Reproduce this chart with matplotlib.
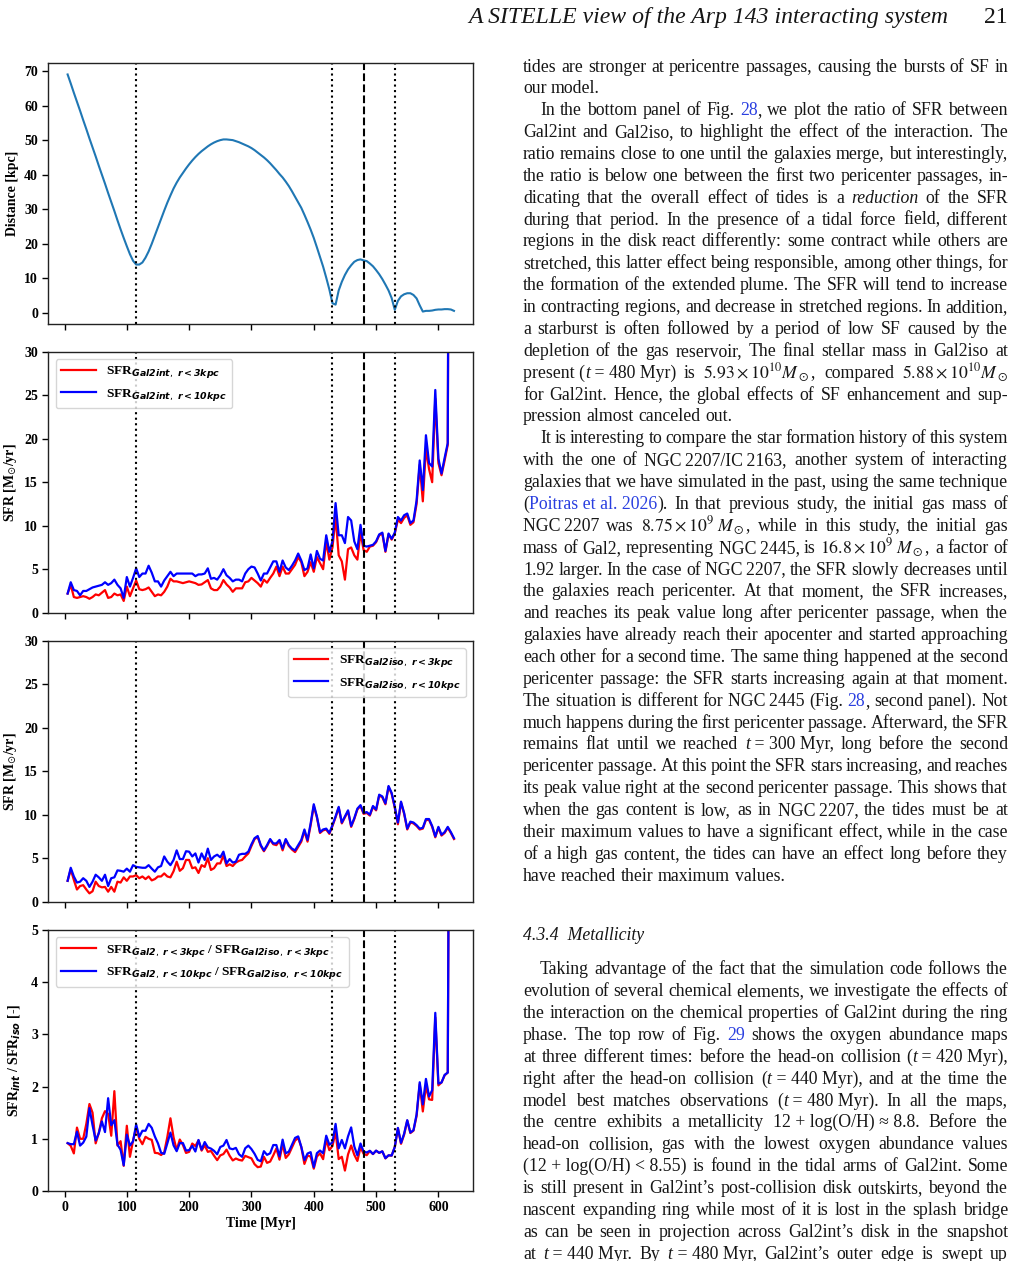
import re
import numpy as np
import matplotlib
matplotlib.use("Agg")
import matplotlib.pyplot as plt
from matplotlib.transforms import IdentityTransform

# ---------------- data ----------------
time_myr = list(range(5, 630, 5))

distance_kpc = [
    69.0, 66.4, 63.7, 61.1, 58.5, 55.8, 53.2, 50.5, 47.9, 45.3,
    42.6, 40.0, 37.4, 34.7, 32.1, 29.5, 26.8, 24.2, 21.7, 19.3,
    17.0, 15.1, 14.0, 14.0, 14.6, 16.0, 17.8, 20.0, 22.4, 24.8,
    27.2, 29.6, 31.9, 34.0, 36.0, 37.7, 39.2, 40.5, 41.8, 43.0,
    44.1, 45.1, 46.0, 46.8, 47.5, 48.2, 48.8, 49.3, 49.7, 50.0,
    50.2, 50.2, 50.1, 50.0, 49.7, 49.4, 49.0, 48.6, 48.2, 47.7,
    47.1, 46.4, 45.7, 45.0, 44.2, 43.3, 42.3, 41.3, 40.2, 39.2,
    38.0, 36.7, 35.2, 33.6, 32.0, 30.4, 28.4, 26.3, 24.1, 21.7,
    19.0, 16.2, 13.4, 10.2, 6.8, 2.8, 2.4, 6.5, 9.0, 11.0,
    12.6, 13.8, 14.8, 15.3, 15.5, 15.2, 15.0, 14.3, 13.5, 12.4,
    11.2, 9.8, 8.2, 6.5, 4.3, 0.9, 3.5, 4.8, 5.4, 5.7,
    5.7, 5.2, 4.2, 2.2, 0.4, 0.6, 0.6, 0.7, 0.9, 1.0,
    1.0, 1.1, 1.1, 1.0, 0.6]

sfr_int_r3 = [
    2.2, 3.2, 1.8, 1.7, 1.8, 1.9, 1.8, 1.6, 1.8, 2.1,
    2.0, 2.3, 2.6, 1.7, 1.8, 2.2, 2.0, 2.1, 1.35, 3.0,
    1.9, 2.8, 3.7, 2.7, 2.6, 2.7, 2.9, 2.4, 1.9, 2.1,
    2.0, 2.4, 3.0, 3.9, 3.6, 3.6, 3.5, 3.4, 3.5, 3.6,
    3.5, 3.4, 3.2, 3.25, 3.5, 3.75, 2.8, 2.6, 2.6, 3.0,
    3.75, 3.25, 2.9, 2.4, 2.8, 2.8, 2.8, 3.5, 3.6, 4.0,
    3.7, 3.4, 3.0, 3.8, 3.45, 4.0, 4.5, 5.3, 4.2, 5.3,
    4.5, 4.5, 5.0, 5.5, 6.4, 5.8, 4.2, 4.7, 5.8, 4.7,
    6.4, 5.7, 5.0, 8.2, 6.1, 7.5, 11.0, 6.6, 5.9, 3.8,
    7.3, 7.5, 6.6, 6.1, 9.2, 7.2, 7.0, 7.6, 7.7, 8.1,
    8.9, 9.1, 7.0, 9.0, 8.4, 9.1, 10.7, 10.3, 10.9, 11.2,
    10.1, 10.4, 12.5, 17.0, 12.8, 18.9, 16.5, 15.0, 24.6, 17.2,
    15.8, 17.5, 19.3, 120.0, 150.0]

sfr_int_r10 = [
    2.2, 3.5, 2.6, 2.5, 2.0, 2.5, 2.5, 2.7, 2.9, 3.0,
    3.1, 3.2, 3.5, 3.2, 3.4, 3.8, 3.2, 2.8, 1.7, 4.1,
    3.0, 4.0, 5.1, 4.1, 4.5, 4.5, 5.4, 4.6, 3.6, 3.6,
    3.0, 3.7, 4.2, 4.7, 4.2, 4.5, 4.5, 4.5, 4.5, 4.5,
    4.5, 4.2, 4.4, 4.4, 4.5, 5.1, 3.9, 4.0, 3.8, 4.3,
    5.0, 4.3, 4.0, 3.6, 3.8, 3.8, 3.6, 4.5, 5.0, 5.3,
    5.2, 4.5, 3.7, 4.5, 4.5, 5.2, 5.9, 5.9, 4.7, 6.0,
    5.2, 4.9, 5.4, 6.0, 6.8, 6.0, 4.9, 5.1, 6.7, 5.1,
    7.1, 6.2, 6.0, 8.9, 7.0, 8.2, 12.6, 8.9, 8.9, 8.0,
    11.0, 10.6, 8.2, 7.3, 10.1, 7.7, 7.6, 7.7, 7.8, 8.2,
    9.0, 9.2, 7.1, 9.1, 8.5, 9.2, 11.0, 10.6, 11.2, 11.4,
    10.3, 10.6, 12.9, 17.5, 14.1, 20.4, 17.2, 16.8, 25.6, 17.7,
    16.0, 17.8, 19.5, 120.0, 150.0]

sfr_iso_r3 = [
    2.4, 3.7, 2.5, 1.4, 1.8, 1.9, 1.4, 0.96, 1.2, 2.3,
    1.8, 1.65, 1.7, 1.15, 1.7, 1.15, 2.3, 2.2, 2.8, 2.4,
    2.9, 2.9, 3.05, 2.7, 2.9, 2.6, 2.9, 2.45, 2.6, 2.9,
    2.9, 3.25, 2.9, 2.8, 3.5, 4.6, 3.55, 3.85, 4.8, 4.8,
    3.85, 3.95, 3.3, 4.2, 4.0, 5.0, 3.65, 3.85, 4.4, 4.4,
    5.3, 4.1, 4.3, 4.1, 4.5, 4.7, 4.8, 5.2, 5.55, 6.4,
    7.2, 7.45, 6.4, 5.8, 6.4, 7.1, 6.6, 6.5, 7.0, 5.9,
    7.1, 6.4, 6.0, 5.7, 6.3, 6.9, 8.1, 6.9, 8.8, 11.0,
    9.7, 7.9, 8.2, 8.3, 7.8, 8.7, 9.7, 10.8, 9.0, 9.7,
    10.4, 8.6, 9.5, 10.6, 11.0, 10.1, 10.2, 9.9, 10.9, 10.5,
    12.2, 12.0, 11.2, 13.2, 12.4, 10.8, 8.9, 11.4, 10.1, 8.3,
    9.1, 9.0, 8.7, 8.3, 8.4, 9.4, 9.4, 8.6, 7.4, 8.5,
    7.6, 7.9, 8.5, 7.9, 7.2]

sfr_iso_r10 = [
    2.4, 3.9, 2.9, 2.2, 2.3, 2.7, 2.4, 1.7, 2.3, 3.1,
    2.8, 2.4, 3.1, 1.8, 2.7, 2.8, 3.6, 3.55, 3.45, 3.8,
    3.45, 4.2, 4.0, 3.95, 3.9, 3.9, 4.2, 3.8, 3.45, 3.95,
    4.1, 5.2, 4.6, 4.2, 4.8, 5.9, 4.9, 4.9, 5.8, 5.75,
    5.2, 5.55, 4.5, 5.55, 4.8, 6.1, 4.8, 5.2, 5.4, 5.1,
    5.75, 4.4, 4.9, 4.5, 4.6, 5.4, 5.5, 5.5, 5.75, 6.6,
    7.3, 7.55, 6.5, 5.9, 6.5, 7.2, 6.7, 6.7, 7.1, 6.1,
    7.2, 6.5, 6.1, 5.9, 6.5, 7.1, 8.3, 7.1, 9.0, 11.2,
    9.8, 8.0, 8.3, 8.4, 7.9, 8.8, 9.8, 10.9, 9.1, 9.8,
    10.5, 8.7, 9.6, 10.7, 11.1, 10.2, 10.3, 10.0, 11.0, 10.6,
    12.3, 12.1, 11.3, 13.3, 12.5, 10.9, 9.1, 11.5, 10.2, 8.4,
    9.2, 9.1, 8.8, 8.4, 8.5, 9.5, 9.5, 8.7, 7.5, 8.6,
    7.7, 8.0, 8.6, 8.0, 7.3]

event_dotted = [115, 430, 530]
event_dashed = [480]

dist_yticks = [0, 10, 20, 30, 40, 50, 60, 70]
sfr_yticks = [0, 5, 10, 15, 20, 25, 30]
ratio_yticks = [0, 1, 2, 3, 4, 5]
time_xticks = [0, 100, 200, 300, 400, 500, 600]

leg_int = [r'SFR$_{\mathbfit{Gal2int},\ \mathbfit{r<3kpc}}$',
           r'SFR$_{\mathbfit{Gal2int},\ \mathbfit{r<10kpc}}$']
leg_iso = [r'SFR$_{\mathbfit{Gal2iso},\ \mathbfit{r<3kpc}}$',
           r'SFR$_{\mathbfit{Gal2iso},\ \mathbfit{r<10kpc}}$']
leg_ratio = [r'SFR$_{\mathbfit{Gal2},\ \mathbfit{r<3kpc}}$ / SFR$_{\mathbfit{Gal2iso},\ \mathbfit{r<3kpc}}$',
             r'SFR$_{\mathbfit{Gal2},\ \mathbfit{r<10kpc}}$ / SFR$_{\mathbfit{Gal2iso},\ \mathbfit{r<10kpc}}$']

t = np.array(time_myr, dtype=float)
ratio_r3 = np.array(sfr_int_r3) / np.array(sfr_iso_r3)
ratio_r10 = np.array(sfr_int_r10) / np.array(sfr_iso_r10)

# ---------------- figure ----------------
SERIF = 'Liberation Serif'
FAM = [SERIF, 'DejaVu Serif']
plt.rcParams['font.family'] = FAM
W, H = 1016, 1261
fig = plt.figure(figsize=(W / 100, H / 100), dpi=100)

def ax_at(l, top, r, b):
    return fig.add_axes([l / W, 1 - b / H, (r - l) / W, (b - top) / H])

ax1 = ax_at(48.3, 62.7, 473.3, 324.0)
ax2 = ax_at(48.3, 351.7, 473.3, 612.7)
ax3 = ax_at(48.3, 640.7, 473.3, 901.7)
ax4 = ax_at(48.3, 930.0, 473.3, 1191.0)
axes = [ax1, ax2, ax3, ax4]

TICK_FS = 10
LAB_FS = 10

ax1.plot(t, distance_kpc, color='#1f77b4', lw=1.5)
ax2.plot(t, sfr_int_r3, color='red', lw=1.6, label=leg_int[0])
ax2.plot(t, sfr_int_r10, color='blue', lw=1.6, label=leg_int[1])
ax3.plot(t, sfr_iso_r3, color='red', lw=1.6, label=leg_iso[0])
ax3.plot(t, sfr_iso_r10, color='blue', lw=1.6, label=leg_iso[1])
ax4.plot(t, ratio_r3, color='red', lw=1.6, label=leg_ratio[0])
ax4.plot(t, ratio_r10, color='blue', lw=1.6, label=leg_ratio[1])

for ax in axes:
    for xv in event_dotted:
        ax.axvline(xv, color='black', ls=':', lw=1.5)
    for xv in event_dashed:
        ax.axvline(xv, color='black', ls='--', lw=1.5)
    ax.set_xlim(-26, 656)
    ax.set_xticks(time_xticks)
    for s in ax.spines.values():
        s.set_linewidth(1.0)
        s.set_color('#222222')
    ax.tick_params(labelsize=TICK_FS, width=1.0, length=4.5, pad=3)

ax1.set_ylim(-3.2, 72.4)
ax1.set_yticks(dist_yticks)
ax2.set_ylim(0, 30)
ax2.set_yticks(sfr_yticks)
ax3.set_ylim(0, 30)
ax3.set_yticks(sfr_yticks)
ax4.set_ylim(0, 5)
ax4.set_yticks(ratio_yticks)
for ax in [ax1, ax2, ax3]:
    ax.tick_params(labelbottom=False)

ax4.set_xticklabels([str(v) for v in time_xticks])
for ax in axes:
    for lab in ax.get_xticklabels() + ax.get_yticklabels():
        lab.set_fontweight('bold')

ax1.set_ylabel('Distance [kpc]', fontsize=LAB_FS, fontweight='bold')
ax2.set_ylabel(r'SFR [M$_{\odot}$/yr]', fontsize=LAB_FS, fontweight='bold')
ax3.set_ylabel(r'SFR [M$_{\odot}$/yr]', fontsize=LAB_FS, fontweight='bold')
ax4.set_ylabel(r'SFR$_{\mathbfit{int}}$ / SFR$_{\mathbfit{iso}}$ [-]', fontsize=LAB_FS, fontweight='bold')
ax4.set_xlabel('Time [Myr]', fontsize=LAB_FS, fontweight='bold', labelpad=2)
for ax in axes[:3]:
    ax.yaxis.set_label_coords(-0.068, 0.5)
ax4.yaxis.set_label_coords(-0.062, 0.5)

legprop = {'family': FAM, 'weight': 'bold', 'size': 9.6}
ax2.legend(loc='upper left', prop=legprop, handlelength=2.6, borderaxespad=0.55)
ax3.legend(loc='upper right', prop=legprop, handlelength=2.6, borderaxespad=0.55)
ax4.legend(loc='upper left', prop=legprop, handlelength=2.6, borderaxespad=0.55)

# ---------------- page text ----------------
renderer = fig.canvas.get_renderer()
IDT = IdentityTransform()
TEXT_COLOR = '#161616'
LINK_COLOR = '#2a3fe0'

def put(x, ybase, s, **kw):
    return fig.text(x, H - ybase, s, transform=IDT, ha='left', va='baseline',
                    math_fontfamily='stix', **kw)

def width_of(s, **kw):
    tt = put(0, 0, s, **kw)
    w = tt.get_window_extent(renderer).width
    tt.remove()
    return w

base_w = width_of('have reached their maximum values.', family=FAM, fontsize=10)
BODY_FS = 10 * 261.0 / base_w
head_w = width_of('A SITELLE view of the Arp 143 interacting system', family=FAM,
                  style='italic', fontsize=10)
HEAD_FS = 10 * 480.0 / head_w

def seg_style(seg):
    if seg.startswith('#'):
        return seg[1:-1], dict(color=LINK_COLOR)
    if seg.startswith('*'):
        return seg[1:-1], dict(color=TEXT_COLOR, style='italic')
    return seg, dict(color=TEXT_COLOR)

SPACE_W = (width_of('a a', family=FAM, fontsize=BODY_FS)
           - width_of('aa', family=FAM, fontsize=BODY_FS))

def render_line(line, ybase, left, right, justify):
    tokens = line.split(' ')
    tok_items = []
    for tok in tokens:
        segs = re.findall(r'#[^#]*#|\*[^*]*\*|[^#*]+', tok)
        items = []
        tw = 0.0
        for sg in segs:
            txt, st = seg_style(sg)
            txt = txt.replace('~', ' ')
            tt = put(0, ybase, txt, family=FAM, fontsize=BODY_FS, **st)
            w = tt.get_window_extent(renderer).width
            items.append((tt, w))
            tw += w
        tok_items.append((items, tw))
    total = sum(tw for _, tw in tok_items)
    if justify and len(tok_items) > 1:
        gap = (right - left - total) / (len(tok_items) - 1)
    else:
        gap = SPACE_W
    x = left
    for items, tw in tok_items:
        xx = x
        for tt, w in items:
            tt.set_x(xx)
            xx += w
        x += tw + gap

LEFT, RIGHT, INDENT = 523.0, 1008.0, 17.0
LS = 21.87
TS = '\u2009'

paragraphs_top = [
    [
        "tides are stronger at pericentre passages, causing the bursts of SF in",
        "our model.",
    ],
    [
        "In the bottom panel of Fig. #28#, we plot the ratio of SFR between",
        "Gal2int and Gal2iso, to highlight the effect of the interaction. The",
        "ratio remains close to one until the galaxies merge, but interestingly,",
        "the ratio is below one between the first two pericenter passages, in-",
        "dicating that the overall effect of tides is a *reduction* of the SFR",
        "during that period. In the presence of a tidal force field, different",
        "regions in the disk react differently: some contract while others are",
        "stretched, this latter effect being responsible, among other things, for",
        "the formation of the extended plume. The SFR will tend to increase",
        "in contracting regions, and decrease in stretched regions. In addition,",
        "a starburst is often followed by a period of low SF caused by the",
        "depletion of the gas reservoir, The final stellar mass in Gal2iso at",
        "present~(*t*~=~480~Myr) is $5.93\\times10^{10}M_\\odot$, compared $5.88\\times10^{10}M_\\odot$",
        "for Gal2int. Hence, the global effects of SF enhancement and sup-",
        "pression almost canceled out.",
    ],
    [
        "It is interesting to compare the star formation history of this system",
        "with the one of NGC" + TS + "2207/IC" + TS + "2163, another system of interacting",
        "galaxies that we have simulated in the past, using the same technique",
        "(#Poitras~et~al.~2026#). In that previous study, the initial gas mass of",
        "NGC" + TS + "2207 was $8.75\\times10^{9}\\;M_\\odot$, while in this study, the initial gas",
        "mass of Gal2, representing NGC" + TS + "2445, is $16.8\\times10^{9}\\;M_\\odot$, a factor of",
        "1.92 larger. In the case of NGC" + TS + "2207, the SFR slowly decreases until",
        "the galaxies reach pericenter. At that moment, the SFR increases,",
        "and reaches its peak value long after pericenter passage, when the",
        "galaxies have already reach their apocenter and started approaching",
        "each other for a second time. The same thing happened at the second",
        "pericenter passage: the SFR starts increasing again at that moment.",
        "The situation is different for NGC" + TS + "2445 (Fig. #28#, second panel). Not",
        "much happens during the first pericenter passage. Afterward, the SFR",
        "remains flat until we reached *t*~=~300~Myr, long before the second",
        "pericenter passage. At this point the SFR stars increasing, and reaches",
        "its peak value right at the second pericenter passage. This shows that",
        "when the gas content is low, as in NGC" + TS + "2207, the tides must be at",
        "their maximum values to have a significant effect, while in the case",
        "of a high gas content, the tides can have an effect long before they",
        "have reached their maximum values.",
    ],
]

paragraphs_bottom = [
    [
        "Taking advantage of the fact that the simulation code follows the",
        "evolution of several chemical elements, we investigate the effects of",
        "the interaction on the chemical properties of Gal2int during the ring",
        "phase. The top row of Fig. #29# shows the oxygen abundance maps",
        "at three different times: before the head-on collision (*t*~=~420~Myr),",
        "right after the head-on collision (*t*~=~440~Myr), and at the time the",
        "model best matches observations (*t*~=~480~Myr). In all the maps,",
        "the centre exhibits a metallicity 12~+~log(O/H)~\u2248~8.8. Before the",
        "head-on collision, gas with the lowest oxygen abundance values",
        "(12~+~log(O/H)~<~8.55) is found in the tidal arms of Gal2int. Some",
        "is still present in Gal2int\u2019s post-collision disk outskirts, beyond the",
        "nascent expanding ring while most of it is lost in the splash bridge",
        "as can be seen in projection across Gal2int\u2019s disk in the snapshot",
        "at *t*~=~440~Myr. By *t*~=~480~Myr, Gal2int\u2019s outer edge is swept up",
    ],
]

def render_paragraphs(pars, y0, first_indent_skip, last_open=False):
    y = y0
    for pi, par in enumerate(pars):
        for li, line in enumerate(par):
            left = LEFT
            if li == 0 and not (pi == 0 and first_indent_skip):
                left = LEFT + INDENT
            is_last = (li == len(par) - 1)
            justify = not is_last or (last_open and pi == len(pars) - 1)
            render_line(line, y, left, RIGHT, justify)
            y += LS

render_paragraphs(paragraphs_top, 71.5, True)
put(LEFT, 940.0, '4.3.4  Metallicity', family=FAM, style='italic',
    fontsize=BODY_FS, color=TEXT_COLOR)
render_paragraphs(paragraphs_bottom, 974.3, False, last_open=True)

# running header
fig.text(948, H - 23.3, 'A SITELLE view of the Arp 143 interacting system',
         transform=IDT, ha='right', va='baseline', family=FAM, style='italic',
         fontsize=HEAD_FS, color=TEXT_COLOR)
fig.text(1008, H - 23.3, '21', transform=IDT, ha='right', va='baseline',
         family=FAM, fontsize=HEAD_FS, color=TEXT_COLOR)

fig.savefig('out.png', dpi=100)
